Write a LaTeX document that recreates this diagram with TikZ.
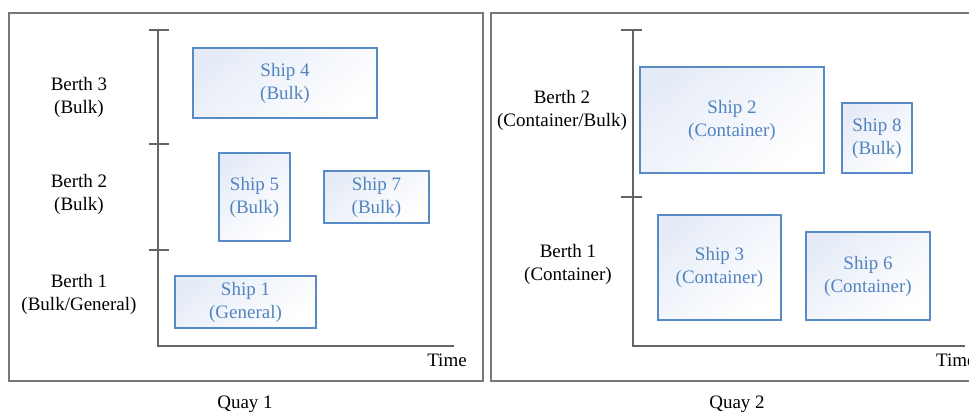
\documentclass[tikz,border=0pt]{standalone}
\usepackage{fontspec}
\setmainfont{Liberation Serif}
\definecolor{shipedge}{RGB}{88,138,198}
\definecolor{shiptext}{RGB}{82,132,192}
\definecolor{shipfill}{RGB}{230,236,247}
\definecolor{panelgray}{RGB}{120,120,120}
\definecolor{axisgray}{RGB}{100,100,100}
\tikzset{
  panel/.style={draw=panelgray, line width=1.4pt},
  axisline/.style={draw=axisgray, line width=1.8pt},
  shipbox/.style={draw=shipedge, line width=1.2pt, shade, top color=shipfill, bottom color=white, shading angle=40,
    text=shiptext, align=center, font=\fontsize{19}{23}\selectfont, inner sep=0pt},
  berthlabel/.style={align=center, font=\fontsize{19}{23}\selectfont, inner sep=0pt},
  plainlabel/.style={font=\fontsize{19}{23}\selectfont, inner sep=0pt},
}
\begin{document}
\begin{tikzpicture}[x=1pt,y=-1pt]
\useasboundingbox (0,0) rectangle (969,414);
\clip (0,0) rectangle (969,414);
% panels
\draw[panel] (9,13) rectangle (483,381);
\draw[panel] (491,13) rectangle (990,381);
% ---------- Quay 1 ----------
\coordinate (a1top) at (158,30);
\coordinate (a1org) at (158,346);
\coordinate (a1end) at (454,346);
\coordinate (t1a) at (149,30);   \coordinate (t1b) at (169,30);
\coordinate (t2a) at (149,144);  \coordinate (t2b) at (169,144);
\coordinate (t3a) at (149,250);  \coordinate (t3b) at (169,250);
\draw[axisline] (a1top) -- (a1org) -- (a1end);
\draw[axisline] (t1a) -- (t1b);
\draw[axisline] (t2a) -- (t2b);
\draw[axisline] (t3a) -- (t3b);
\node[berthlabel] (b13) at (79,97) {Berth 3\\(Bulk)};
\node[berthlabel] (b12) at (79,194) {Berth 2\\(Bulk)};
\node[berthlabel] (b11) at (79,294) {Berth 1\\(Bulk/General)};
\node[plainlabel] (time1) at (447,360) {Time};
\node[plainlabel] (quay1) at (245,404) {Quay 1};
\node[shipbox, minimum width=184pt, minimum height=70pt] (s4) at (285,83) {Ship 4\\(Bulk)};
\node[shipbox, minimum width=71pt, minimum height=88pt] (s5) at (254.5,197) {Ship 5\\(Bulk)};
\node[shipbox, minimum width=105pt, minimum height=52pt] (s7) at (376.5,197) {Ship 7\\(Bulk)};
\node[shipbox, minimum width=141pt, minimum height=52pt] (s1) at (245.5,302) {Ship 1\\(General)};
% ---------- Quay 2 ----------
\coordinate (a2top) at (633,30);
\coordinate (a2org) at (633,346);
\coordinate (a2end) at (965,346);
\coordinate (u1a) at (621,30);   \coordinate (u1b) at (642,30);
\coordinate (u2a) at (621,197);  \coordinate (u2b) at (642,197);
\draw[axisline] (a2top) -- (a2org) -- (a2end);
\draw[axisline] (u1a) -- (u1b);
\draw[axisline] (u2a) -- (u2b);
\node[berthlabel] (b22) at (562,110) {Berth 2\\(Container/Bulk)};
\node[berthlabel] (b21) at (568,264) {Berth 1\\(Container)};
\node[plainlabel, anchor=west] (time2) at (936,360) {Time};
\node[plainlabel] (quay2) at (737,404) {Quay 2};
\node[shipbox, minimum width=184pt, minimum height=106pt] (s2) at (732,120) {Ship 2\\(Container)};
\node[shipbox, minimum width=70pt, minimum height=70pt] (s8) at (877,138) {Ship 8\\(Bulk)};
\node[shipbox, minimum width=123pt, minimum height=105pt] (s3) at (719.5,267.5) {Ship 3\\(Container)};
\node[shipbox, minimum width=124pt, minimum height=88pt] (s6) at (868,276) {Ship 6\\(Container)};
\end{tikzpicture}
\end{document}
